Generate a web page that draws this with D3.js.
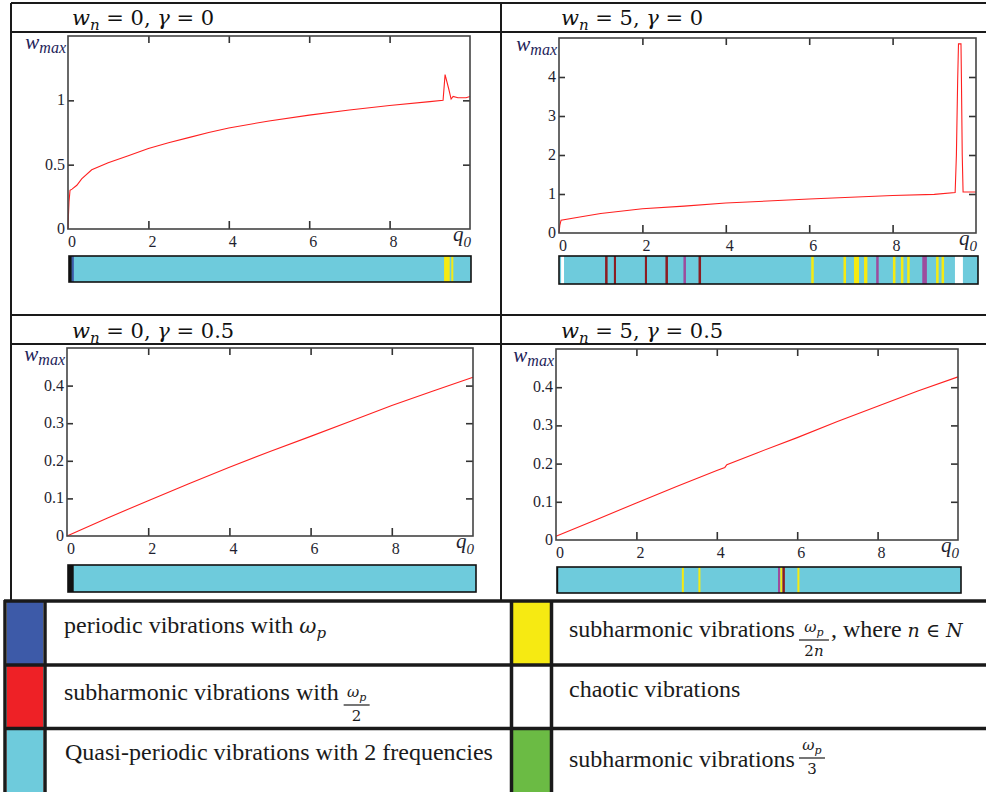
<!DOCTYPE html>
<html>
<head>
<meta charset="utf-8">
<script src="https://cdn.jsdelivr.net/npm/d3@7"></script>
<style>
body { margin: 0; background: #fff; }
svg { display: block; }
</style>
</head>
<body>
<div id="chart"></div>
<script>
// ---- data ----
// w_n = 0, gamma = 0
const q1 = [0, 0.01, 0.025, 0.05, 0.1, 0.22, 0.34, 0.59, 1.0, 1.5, 2.0, 2.5, 3.0, 3.5, 4.0, 5.0, 6.0, 7.0, 8.0, 9.0, 9.33, 9.38, 9.47, 9.53, 9.58, 9.7, 9.9, 10];
const w1 = [0, 0.1, 0.21, 0.30, 0.31, 0.34, 0.39, 0.46, 0.515, 0.57, 0.625, 0.67, 0.71, 0.75, 0.785, 0.84, 0.885, 0.925, 0.96, 0.99, 1.0, 1.20, 1.09, 1.01, 1.03, 1.02, 1.02, 1.03];
// w_n = 5, gamma = 0
const q2 = [0, 0.02, 0.05, 0.5, 1, 2, 3, 4, 5, 6, 7, 8, 9, 9.5, 9.53, 9.56, 9.58, 9.64, 9.65, 9.67, 9.69, 10];
const w2 = [0, 0.2, 0.33, 0.41, 0.50, 0.62, 0.69, 0.77, 0.82, 0.87, 0.915, 0.96, 0.99, 1.04, 2.0, 3.9, 4.85, 4.85, 4.0, 2.0, 1.05, 1.05];
// w_n = 0, gamma = 0.5
const q3 = [0, 1, 2, 3, 4, 5, 6, 7, 8, 9, 10];
const w3 = [0, 0.048, 0.094, 0.139, 0.183, 0.225, 0.265, 0.306, 0.347, 0.385, 0.422];
// w_n = 5, gamma = 0.5
const q4 = [0, 1, 2, 3, 4, 4.2, 4.25, 5, 6, 7, 8, 9, 10];
const w4 = [0.01, 0.053, 0.097, 0.14, 0.182, 0.19, 0.197, 0.228, 0.268, 0.31, 0.35, 0.39, 0.427];

const xTickValues = [0, 2, 4, 6, 8];
const yTicks1 = [0, 0.5, 1];
const yTicks2 = [0, 1, 2, 3, 4];
const yTicks3 = [0, 0.1, 0.2, 0.3, 0.4];

// regime strips under each plot: [q start, q end, regime]
const strip1 = [[0, 0.07, "transient"], [0.07, 0.12, "periodic"], [9.33, 9.47, "sub2n"], [9.51, 9.56, "sub2n"]];
const strip2 = [[0.05, 0.12, "chaotic"], [1.10, 1.16, "sub2"], [1.31, 1.36, "sub2"], [2.05, 2.10, "sub2"], [2.54, 2.60, "sub2"],
  [2.97, 3.03, "mixed"], [3.33, 3.39, "sub2"], [6.02, 6.08, "sub2n"], [6.79, 6.85, "sub2n"], [7.04, 7.16, "sub2n"],
  [7.28, 7.36, "sub2n"], [7.57, 7.63, "mixed"], [7.97, 8.03, "sub2n"], [8.16, 8.22, "sub2n"], [8.31, 8.37, "sub2n"],
  [8.67, 8.78, "mixed"], [9.0, 9.06, "sub2n"], [9.13, 9.19, "sub2n"], [9.45, 9.64, "chaotic"]];
const strip3 = [[0, 0.14, "transient"]];
const strip4 = [[0, 0.03, "transient"], [3.09, 3.14, "sub2n"], [3.50, 3.55, "sub2n"], [5.47, 5.52, "mixed"],
  [5.53, 5.58, "sub2n"], [5.58, 5.64, "sub2"], [5.95, 6.0, "sub2n"]];

const titleWn = ["0", "5", "0", "5"];
const titleGamma = ["0", "0", "0.5", "0.5"];

// ---- styles / layout ----
const regimeColor = {
  quasi: "#6ecbdc", periodic: "#3d5aa8", sub2: "#8c1c22", sub2n: "#f6ea12",
  chaotic: "#ffffff", mixed: "#9d4c9e", transient: "#111111"
};
const serif = "'Liberation Serif', 'Times New Roman', serif";
const mathFont = "'DejaVu Serif', serif";

const width = 986, height = 792;
const svg = d3.select("#chart").append("svg")
  .attr("width", width).attr("height", height)
  .style("background", "#fff");

const panels = [
  { q: q1, w: w1, yMax: 1.5, yTicks: yTicks1, strip: strip1, box: [68, 470, 36, 229], bar: [69, 471, 256, 282], tx: 72, ty: 25 },
  { q: q2, w: w2, yMax: 5, yTicks: yTicks2, strip: strip2, box: [559, 976, 38, 233], bar: [559, 978, 256, 284], tx: 561, ty: 25 },
  { q: q3, w: w3, yMax: 0.5, yTicks: yTicks3, strip: strip3, box: [67, 473, 348, 536], bar: [68, 476, 565, 592], tx: 72, ty: 338 },
  { q: q4, w: w4, yMax: 0.5, yTicks: yTicks3, strip: strip4, box: [556, 958, 349, 540], bar: [557, 961, 567, 593], tx: 561, ty: 338 }
];

// table grid around the four plots
const grid = svg.append("g").attr("stroke", "#1a1a1a").attr("stroke-width", 2);
[[11, 3, 986, 3], [11, 32, 986, 32], [11, 315, 986, 315], [11, 344, 986, 344],
 [11, 3, 11, 600], [501, 3, 501, 600]].forEach(l => {
  grid.append("line").attr("x1", l[0]).attr("y1", l[1]).attr("x2", l[2]).attr("y2", l[3]);
});

function drawPanel(p, i) {
  const [x0, x1, y0, y1] = p.box;
  const x = d3.scaleLinear().domain([0, 10]).range([x0, x1]);
  const y = d3.scaleLinear().domain([0, p.yMax]).range([y1, y0]);
  const g = svg.append("g");

  // title  w_n = .., gamma = ..
  const t = g.append("text").attr("x", p.tx).attr("y", p.ty)
    .attr("font-family", mathFont).attr("font-size", 21).attr("fill", "#111");
  t.append("tspan").attr("font-style", "italic").text("w");
  t.append("tspan").attr("font-style", "italic").attr("font-size", 15).attr("dy", 5).text("n");
  t.append("tspan").attr("dy", -5).text(" = " + titleWn[i] + ", ");
  t.append("tspan").attr("font-style", "italic").text("γ");
  t.append("tspan").text(" = " + titleGamma[i]);

  // curve
  g.append("path")
    .datum(d3.zip(p.q, p.w))
    .attr("fill", "none")
    .attr("stroke", "#ff2020")
    .attr("stroke-width", 1.1)
    .attr("d", d3.line().x(d => x(d[0])).y(d => y(d[1])));

  // inward ticks on all four sides
  const inner = p.yTicks.filter(v => v > 0);
  const xt = xTickValues.filter(v => v > 0);
  const tickStyle = s => s.call(a => a.select(".domain").remove())
    .selectAll("line").attr("stroke", "#333").attr("stroke-width", 1.6);
  g.append("g").attr("transform", `translate(0,${y1})`)
    .call(d3.axisBottom(x).tickValues(xt).tickSize(-8).tickFormat("")).call(tickStyle);
  g.append("g").attr("transform", `translate(0,${y0})`)
    .call(d3.axisTop(x).tickValues(xt).tickSize(-7).tickFormat("")).call(tickStyle);
  g.append("g").attr("transform", `translate(${x0},0)`)
    .call(d3.axisLeft(y).tickValues(inner).tickSize(-6).tickFormat("")).call(tickStyle);
  g.append("g").attr("transform", `translate(${x1},0)`)
    .call(d3.axisRight(y).tickValues(inner).tickSize(-7).tickFormat("")).call(tickStyle);

  // frame
  g.append("rect").attr("x", x0).attr("y", y0).attr("width", x1 - x0).attr("height", y1 - y0)
    .attr("fill", "none").attr("stroke", "#444").attr("stroke-width", 1.6);

  // tick labels
  const fmt = d3.format("~g");
  g.selectAll(".xl").data(xTickValues).join("text")
    .attr("x", d => x(d)).attr("y", y1 + 18)
    .attr("font-family", serif).attr("font-size", 16).attr("fill", "#1f1f30")
    .text(fmt);
  g.selectAll(".yl").data(p.yTicks).join("text")
    .attr("x", x0 - 3).attr("y", d => y(d) + 5)
    .attr("text-anchor", "end")
    .attr("font-family", serif).attr("font-size", 16).attr("fill", "#1f1f30")
    .text(fmt);

  // axis names
  const wl = g.append("text").attr("x", x0 - 2).attr("y", y0 + 13).attr("text-anchor", "end")
    .attr("font-family", serif).attr("font-style", "italic").attr("fill", "#24245a");
  wl.append("tspan").attr("font-size", 21).text("w");
  wl.append("tspan").attr("font-size", 16).attr("dy", 4).text("max");
  const ql = g.append("text").attr("x", x1 - 17).attr("y", y1 + 12)
    .attr("font-family", serif).attr("font-style", "italic").attr("fill", "#1f1f30");
  ql.append("tspan").attr("font-size", 21).text("q");
  ql.append("tspan").attr("font-size", 15).attr("dy", 6).text("0");

  // regime strip
  const [bx0, bx1, by0, by1] = p.bar;
  const bx = d3.scaleLinear().domain([0, 10]).range([bx0, bx1]);
  g.append("rect").attr("x", bx0).attr("y", by0).attr("width", bx1 - bx0).attr("height", by1 - by0)
    .attr("fill", regimeColor.quasi);
  g.selectAll(".st").data(p.strip).join("rect")
    .attr("x", d => bx(d[0])).attr("width", d => bx(d[1]) - bx(d[0]))
    .attr("y", by0).attr("height", by1 - by0)
    .attr("fill", d => regimeColor[d[2]]);
  g.append("rect").attr("x", bx0).attr("y", by0).attr("width", bx1 - bx0).attr("height", by1 - by0)
    .attr("fill", "none").attr("stroke", "#111").attr("stroke-width", 1.6);
}
panels.forEach(drawPanel);

// ---- legend table ----
const legendSwatches = [
  { color: regimeColor.periodic, x: [7, 43], y: [602, 664] },
  { color: "#ee2126", x: [7, 43], y: [666, 727] },
  { color: regimeColor.quasi, x: [7, 43], y: [730, 792] },
  { color: "#f6ea12", x: [513, 550], y: [602, 664] },
  { color: "#ffffff", x: [513, 550], y: [666, 727] },
  { color: "#6bbb44", x: [513, 550], y: [730, 792] }
];
const lg = svg.append("g");
legendSwatches.forEach(s => {
  lg.append("rect").attr("x", s.x[0]).attr("y", s.y[0])
    .attr("width", s.x[1] - s.x[0]).attr("height", s.y[1] - s.y[0]).attr("fill", s.color);
});
const lgLines = lg.append("g").attr("stroke", "#1a1a1a").attr("stroke-width", 3.5);
[[4, 601, 986, 601], [4, 665, 986, 665], [4, 728.5, 986, 728.5],
 [5, 600, 5, 792], [45, 600, 45, 792], [511.5, 600, 511.5, 792], [551.5, 600, 551.5, 792]].forEach(l => {
  lgLines.append("line").attr("x1", l[0]).attr("y1", l[1]).attr("x2", l[2]).attr("y2", l[3]);
});

const legendSize = 24;
function label(x, y, str) {
  return lg.append("text").attr("x", x).attr("y", y)
    .attr("font-family", serif).attr("font-size", legendSize).attr("fill", "#1a1a1a").text(str);
}
function omegaP(sel, size, sub) {
  sel.append("tspan").attr("font-family", mathFont).attr("font-style", "italic").attr("font-size", size).text("ω");
  sel.append("tspan").attr("font-family", mathFont).attr("font-style", "italic").attr("font-size", sub).attr("dy", size * 0.25).text("p");
}
function fraction(x, lineY, den) {
  const w = den.length > 1 ? 30 : 26;
  const num = lg.append("text").attr("x", x + w / 2).attr("y", lineY - 8).attr("text-anchor", "middle")
    .attr("fill", "#1a1a1a");
  omegaP(num, 15, 11);
  lg.append("line").attr("x1", x).attr("x2", x + w).attr("y1", lineY).attr("y2", lineY)
    .attr("stroke", "#1a1a1a").attr("stroke-width", 1.2);
  const d = lg.append("text").attr("x", x + w / 2).attr("y", lineY + 16).attr("text-anchor", "middle")
    .attr("font-family", mathFont).attr("font-size", 15).attr("fill", "#1a1a1a");
  d.append("tspan").text(den.replace("n", ""));
  if (den.indexOf("n") >= 0) d.append("tspan").attr("font-style", "italic").text("n");
  return w;
}

const t1 = label(64, 633, "periodic vibrations with ");
omegaP(t1, 21, 15);

const t2 = label(64, 700, "subharmonic vibrations with");
fraction(64 + t2.node().getComputedTextLength() + 5, 705, "2");

label(65, 760, "Quasi-periodic vibrations with 2 frequencies");

const t4 = label(569, 637, "subharmonic vibrations");
const f4x = 569 + t4.node().getComputedTextLength() + 4;
const fw = fraction(f4x, 640, "2n");
const t4b = lg.append("text").attr("x", f4x + fw + 2).attr("y", 637)
  .attr("font-family", serif).attr("font-size", legendSize).attr("fill", "#1a1a1a");
t4b.append("tspan").text(", where  ");
t4b.append("tspan").attr("font-family", mathFont).attr("font-size", 19).attr("font-style", "italic").text("n");
t4b.append("tspan").attr("font-family", mathFont).attr("font-size", 19).text(" ∈ ");
t4b.append("tspan").attr("font-family", mathFont).attr("font-size", 19).attr("font-style", "italic").text("N");

label(569, 697, "chaotic vibrations");

const t6 = label(569, 767, "subharmonic vibrations");
fraction(569 + t6.node().getComputedTextLength() + 4, 758, "3");
</script>
</body>
</html>
